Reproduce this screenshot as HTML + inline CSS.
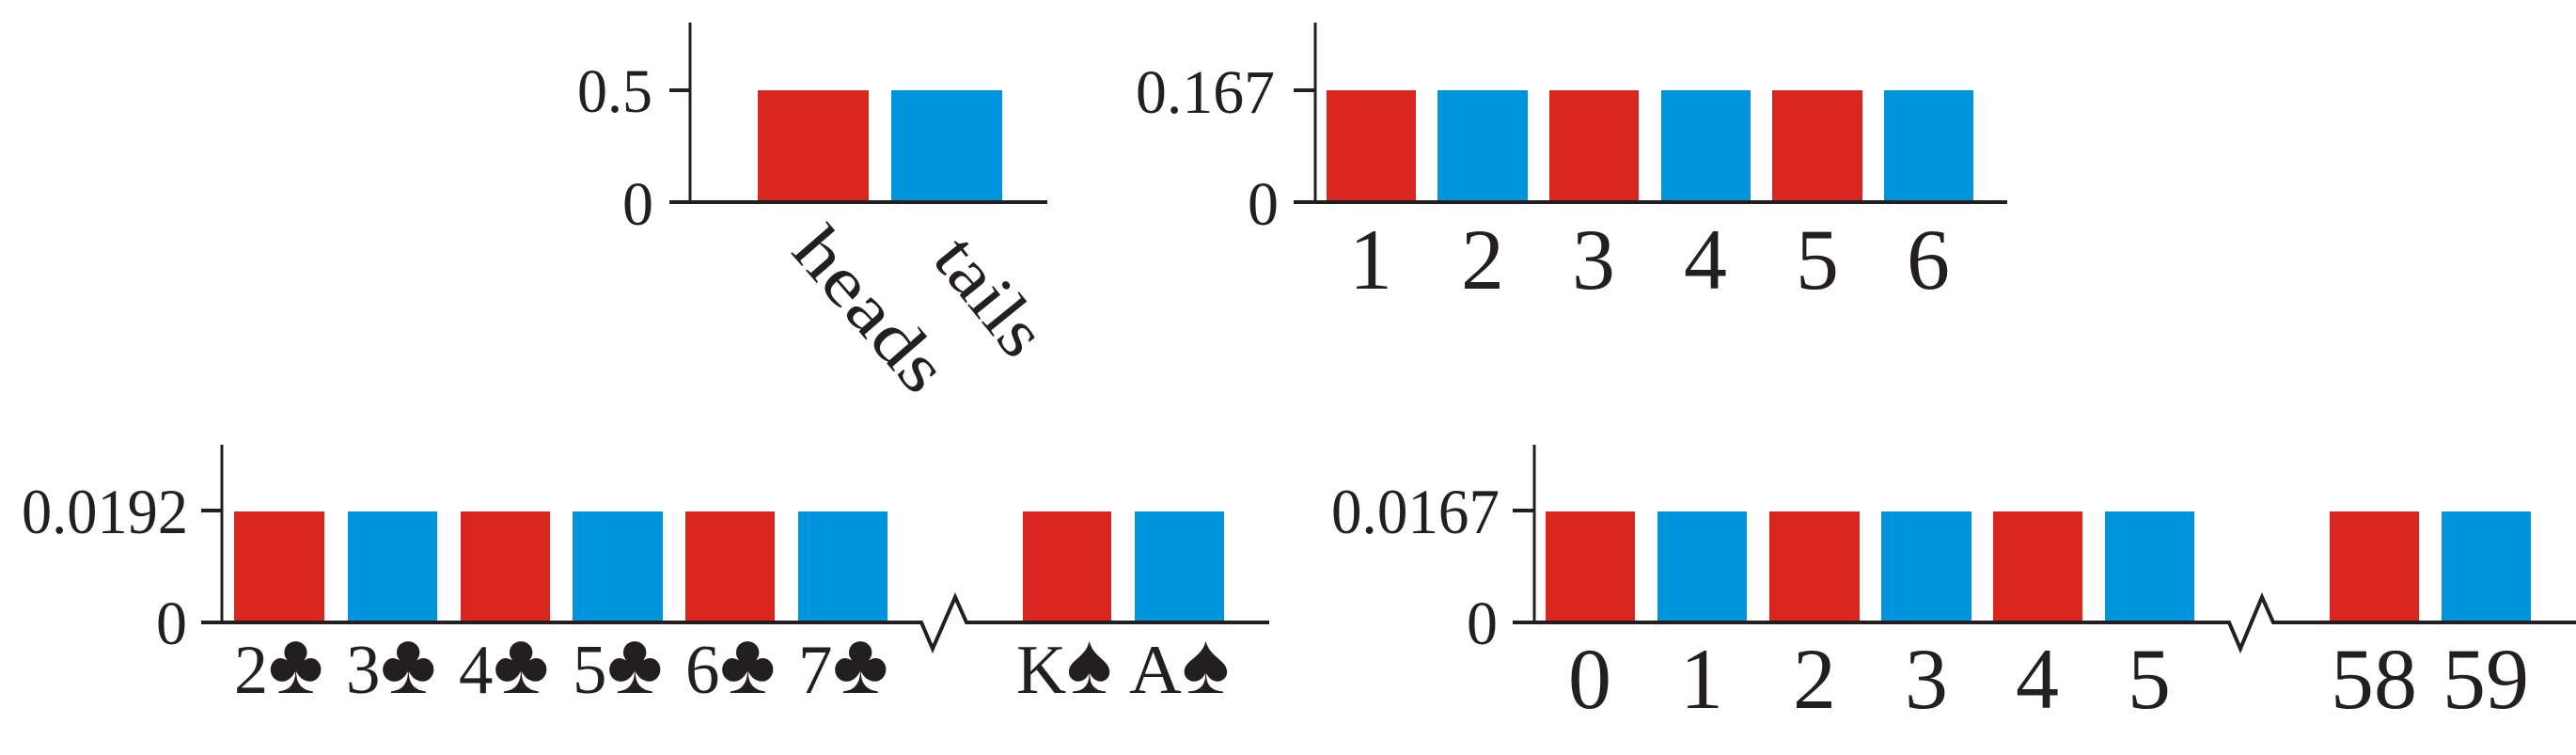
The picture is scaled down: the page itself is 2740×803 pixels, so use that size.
<!DOCTYPE html>
<html><head><meta charset="utf-8"><style>html,body{margin:0;padding:0;background:#fff}svg{display:block}</style></head>
<body>
<svg width="2740" height="803" viewBox="0 0 2740 803" xmlns="http://www.w3.org/2000/svg" font-family="'Liberation Serif', 'DejaVu Serif', serif" fill="#231f20">
<g>
<rect x="806" y="96" width="118" height="119" fill="#d9261f"/>
<rect x="948" y="96" width="118" height="119" fill="#0094dc"/>
<line x1="734" y1="24" x2="734" y2="217" stroke="#231f20" stroke-width="3"/>
<line x1="712" y1="215" x2="1114" y2="215" stroke="#231f20" stroke-width="4"/>
<line x1="712" y1="96" x2="734" y2="96" stroke="#231f20" stroke-width="4"/>
<text x="694" y="119" font-size="66" text-anchor="end" textLength="80" lengthAdjust="spacingAndGlyphs">0.5</text>
<text x="695" y="239" font-size="66" text-anchor="end">0</text>
<text transform="translate(840,268) rotate(49)" font-size="74" textLength="205" lengthAdjust="spacingAndGlyphs">heads</text>
<text transform="translate(990,276) rotate(51)" font-size="74" textLength="140" lengthAdjust="spacingAndGlyphs">tails</text>
</g>
<g>
<rect x="1411" y="96" width="95" height="119" fill="#d9261f"/>
<rect x="1529" y="96" width="96" height="119" fill="#0094dc"/>
<rect x="1648" y="96" width="95" height="119" fill="#d9261f"/>
<rect x="1767" y="96" width="95" height="119" fill="#0094dc"/>
<rect x="1885" y="96" width="96" height="119" fill="#d9261f"/>
<rect x="2004" y="96" width="95" height="119" fill="#0094dc"/>
<line x1="1399" y1="24" x2="1399" y2="217" stroke="#231f20" stroke-width="3"/>
<line x1="1376" y1="215" x2="2135" y2="215" stroke="#231f20" stroke-width="4"/>
<line x1="1376" y1="96" x2="1399" y2="96" stroke="#231f20" stroke-width="4"/>
<text x="1356" y="120" font-size="66" text-anchor="end" textLength="148" lengthAdjust="spacingAndGlyphs">0.167</text>
<text x="1360" y="239" font-size="66" text-anchor="end">0</text>
<g font-size="92" text-anchor="middle">
<text x="1458" y="307">1</text><text x="1577" y="307">2</text><text x="1695" y="307">3</text>
<text x="1814" y="307">4</text><text x="1933" y="307">5</text><text x="2051" y="307">6</text>
</g>
</g>
<g>
<rect x="249" y="544" width="96" height="118" fill="#d9261f"/>
<rect x="370" y="544" width="95" height="118" fill="#0094dc"/>
<rect x="490" y="544" width="95" height="118" fill="#d9261f"/>
<rect x="609" y="544" width="96" height="118" fill="#0094dc"/>
<rect x="729" y="544" width="95" height="118" fill="#d9261f"/>
<rect x="849" y="544" width="95" height="118" fill="#0094dc"/>
<rect x="1088" y="544" width="94" height="118" fill="#d9261f"/>
<rect x="1207" y="544" width="95" height="118" fill="#0094dc"/>
<line x1="236" y1="473" x2="236" y2="664" stroke="#231f20" stroke-width="3"/>
<polyline points="214,662 980,662 992,690 1016,635 1028,662 1350,662" fill="none" stroke="#231f20" stroke-width="4"/>
<line x1="214" y1="543" x2="236" y2="543" stroke="#231f20" stroke-width="4"/>
<text x="200" y="567" font-size="68" text-anchor="end" textLength="177" lengthAdjust="spacingAndGlyphs">0.0192</text>
<text x="199" y="685" font-size="66" text-anchor="end">0</text>
<g font-size="74">
<text x="249" y="737" textLength="95" lengthAdjust="spacingAndGlyphs">2<tspan font-size="92">♣</tspan></text>
<text x="368" y="737" textLength="96" lengthAdjust="spacingAndGlyphs">3<tspan font-size="92">♣</tspan></text>
<text x="488" y="737" textLength="96" lengthAdjust="spacingAndGlyphs">4<tspan font-size="92">♣</tspan></text>
<text x="609" y="737" textLength="96" lengthAdjust="spacingAndGlyphs">5<tspan font-size="92">♣</tspan></text>
<text x="729" y="737" textLength="96" lengthAdjust="spacingAndGlyphs">6<tspan font-size="92">♣</tspan></text>
<text x="849" y="737" textLength="96" lengthAdjust="spacingAndGlyphs">7<tspan font-size="92">♣</tspan></text>
<text x="1081" y="737" textLength="102" lengthAdjust="spacingAndGlyphs">K<tspan font-size="92">♠</tspan></text>
<text x="1201" y="737" textLength="107" lengthAdjust="spacingAndGlyphs">A<tspan font-size="92">♠</tspan></text>
</g>
</g>
<g>
<rect x="1644" y="544" width="95" height="118" fill="#d9261f"/>
<rect x="1763" y="544" width="95" height="118" fill="#0094dc"/>
<rect x="1882" y="544" width="96" height="118" fill="#d9261f"/>
<rect x="2001" y="544" width="96" height="118" fill="#0094dc"/>
<rect x="2120" y="544" width="95" height="118" fill="#d9261f"/>
<rect x="2239" y="544" width="95" height="118" fill="#0094dc"/>
<rect x="2478" y="544" width="95" height="118" fill="#d9261f"/>
<rect x="2597" y="544" width="95" height="118" fill="#0094dc"/>
<line x1="1632" y1="473" x2="1632" y2="664" stroke="#231f20" stroke-width="3"/>
<polyline points="1609,662 2371,662 2383,690 2406,635 2418,662 2740,662" fill="none" stroke="#231f20" stroke-width="4"/>
<line x1="1609" y1="543" x2="1632" y2="543" stroke="#231f20" stroke-width="4"/>
<text x="1595" y="567" font-size="68" text-anchor="end" textLength="179" lengthAdjust="spacingAndGlyphs">0.0167</text>
<text x="1593" y="685" font-size="66" text-anchor="end">0</text>
<g font-size="92" text-anchor="middle">
<text x="1691" y="753">0</text><text x="1810" y="753">1</text><text x="1930" y="753">2</text>
<text x="2049" y="753">3</text><text x="2167" y="753">4</text><text x="2286" y="753">5</text>
<text x="2525" y="753">58</text><text x="2644" y="753">59</text>
</g>
</g>
</svg>
</body></html>
